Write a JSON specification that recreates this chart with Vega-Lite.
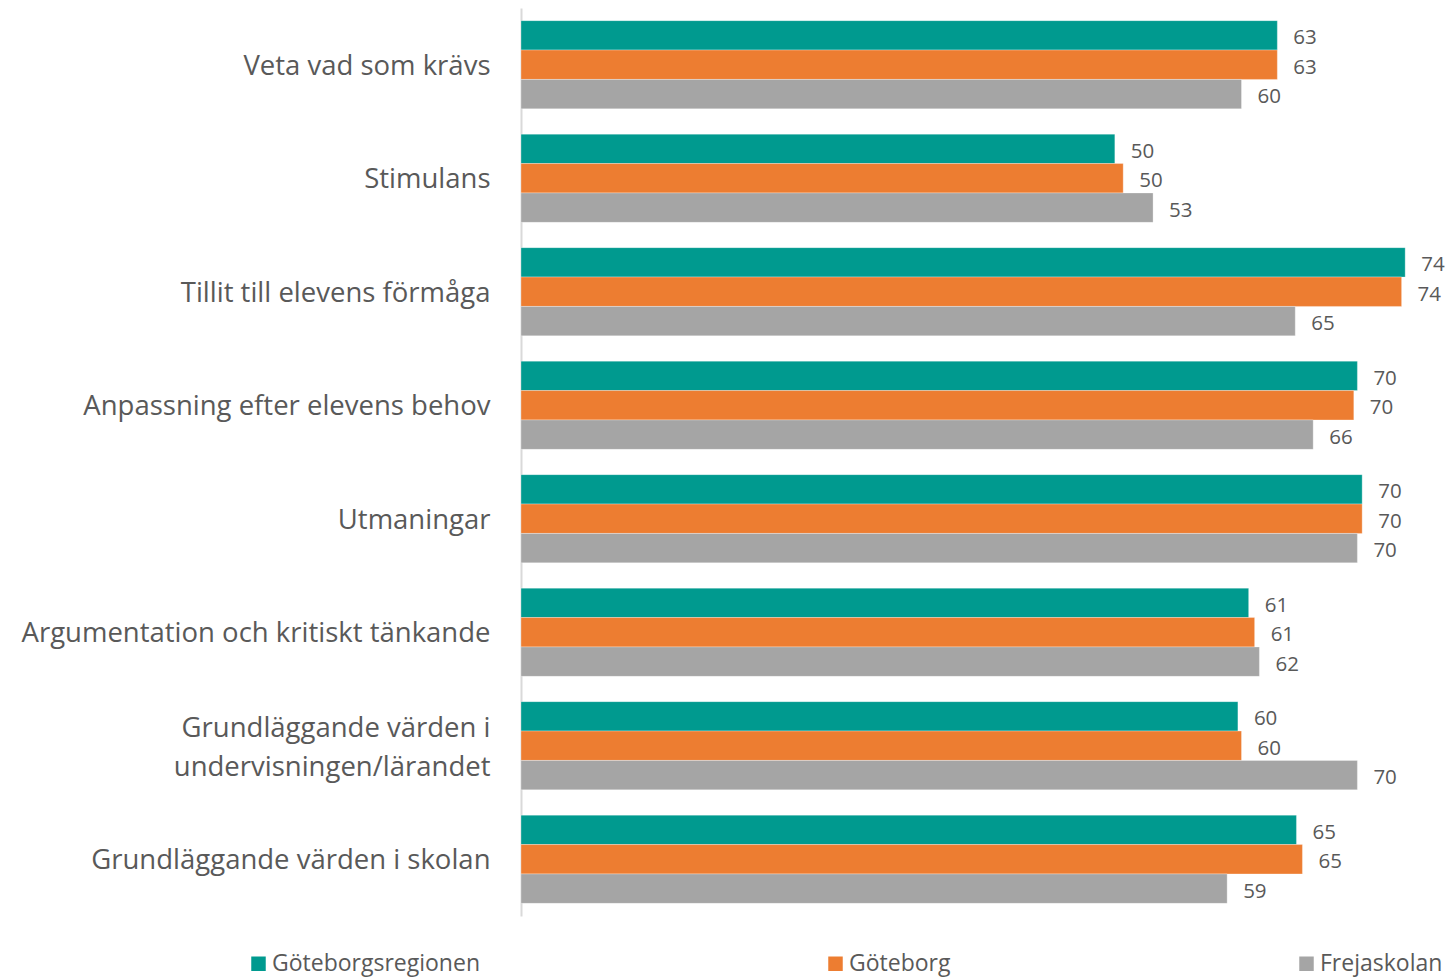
{
  "$schema": "https://vega.github.io/schema/vega-lite/v6.json",
  "width": 926,
  "height": 908,
  "autosize": {"type": "none"},
  "padding": {"left": 521, "top": 8, "right": 0, "bottom": 64},
  "background": "white",
  "config": {
    "view": {"stroke": null},
    "font": "Open Sans",
    "text": {"font": "Open Sans"}
  },
  "data": {
    "values": [
      {"kategori": "Veta vad som krävs", "serie": "Göteborgsregionen", "varde": 63.3},
      {"kategori": "Veta vad som krävs", "serie": "Göteborg", "varde": 63.3},
      {"kategori": "Veta vad som krävs", "serie": "Frejaskolan", "varde": 60.3},
      {"kategori": "Stimulans", "serie": "Göteborgsregionen", "varde": 49.7},
      {"kategori": "Stimulans", "serie": "Göteborg", "varde": 50.4},
      {"kategori": "Stimulans", "serie": "Frejaskolan", "varde": 52.9},
      {"kategori": "Tillit till elevens förmåga", "serie": "Göteborgsregionen", "varde": 74.0},
      {"kategori": "Tillit till elevens förmåga", "serie": "Göteborg", "varde": 73.7},
      {"kategori": "Tillit till elevens förmåga", "serie": "Frejaskolan", "varde": 64.8},
      {"kategori": "Anpassning efter elevens behov", "serie": "Göteborgsregionen", "varde": 70.0},
      {"kategori": "Anpassning efter elevens behov", "serie": "Göteborg", "varde": 69.7},
      {"kategori": "Anpassning efter elevens behov", "serie": "Frejaskolan", "varde": 66.3},
      {"kategori": "Utmaningar", "serie": "Göteborgsregionen", "varde": 70.4},
      {"kategori": "Utmaningar", "serie": "Göteborg", "varde": 70.4},
      {"kategori": "Utmaningar", "serie": "Frejaskolan", "varde": 70.0},
      {"kategori": "Argumentation och kritiskt tänkande", "serie": "Göteborgsregionen", "varde": 60.9},
      {"kategori": "Argumentation och kritiskt tänkande", "serie": "Göteborg", "varde": 61.4},
      {"kategori": "Argumentation och kritiskt tänkande", "serie": "Frejaskolan", "varde": 61.8},
      {"kategori": "Grundläggande värden i undervisningen/lärandet", "serie": "Göteborgsregionen", "varde": 60.0},
      {"kategori": "Grundläggande värden i undervisningen/lärandet", "serie": "Göteborg", "varde": 60.3},
      {"kategori": "Grundläggande värden i undervisningen/lärandet", "serie": "Frejaskolan", "varde": 70.0},
      {"kategori": "Grundläggande värden i skolan", "serie": "Göteborgsregionen", "varde": 64.9},
      {"kategori": "Grundläggande värden i skolan", "serie": "Göteborg", "varde": 65.4},
      {"kategori": "Grundläggande värden i skolan", "serie": "Frejaskolan", "varde": 59.1}
    ]
  },
  "encoding": {
    "y": {
      "field": "kategori",
      "type": "nominal",
      "sort": null,
      "scale": {"paddingInner": 0.223, "paddingOuter": 0.1115},
      "axis": {
        "title": null,
        "ticks": false,
        "labelFontSize": 27.5,
        "labelColor": "#595959",
        "labelPadding": 31,
        "labelLimit": 700,
        "labelLineHeight": 39,
        "labelOffset": {"condition": {"test": "datum.value == 'Grundläggande värden i undervisningen/lärandet'", "value": -17}, "value": 2},
        "domainColor": "#d9d9d9",
        "domainWidth": 2,
        "labelExpr": "datum.label == 'Grundläggande värden i undervisningen/lärandet' ? ['Grundläggande värden i ', 'undervisningen/lärandet'] : datum.label"
      }
    },
    "yOffset": {
      "field": "serie",
      "type": "nominal",
      "sort": ["Göteborgsregionen", "Göteborg", "Frejaskolan"]
    },
    "x": {
      "field": "varde",
      "type": "quantitative",
      "scale": {"domain": [0, 77.5], "nice": false, "zero": true},
      "axis": null
    }
  },
  "layer": [
    {
      "mark": {"type": "bar", "stroke": "#ffffff", "strokeWidth": 0.6, "strokeOpacity": 0.5},
      "encoding": {
        "color": {
          "field": "serie",
          "type": "nominal",
          "scale": {
            "domain": ["Göteborgsregionen", "Göteborg", "Frejaskolan"],
            "range": ["#009a8f", "#ed7d31", "#a5a5a5"]
          },
          "legend": {
            "title": null,
            "orient": "none",
            "direction": "horizontal",
            "legendX": -274,
            "legendY": 944,
            "symbolType": "square",
            "symbolSize": 210,
            "symbolStrokeWidth": 0,
            "labelFontSize": 23,
            "labelColor": "#595959",
            "labelOffset": 2,
            "labelLimit": 500,
            "columnPadding": 344,
            "padding": 0
          }
        }
      }
    },
    {
      "mark": {"type": "text", "align": "left", "baseline": "middle", "dx": 16, "dy": 3, "fontSize": 20.5, "color": "#595959"},
      "encoding": {
        "text": {"field": "varde", "type": "quantitative", "format": ".0f"}
      }
    }
  ]
}
